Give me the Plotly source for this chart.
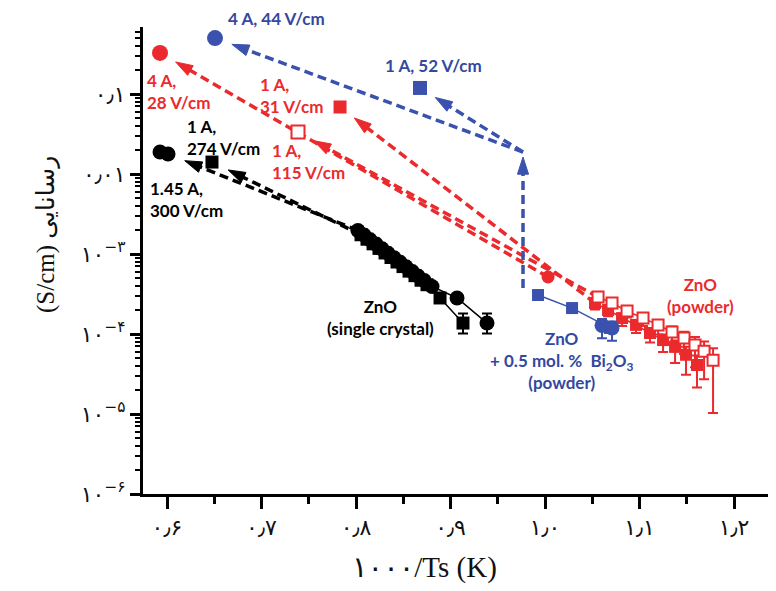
import numpy as np
import plotly.graph_objects as go

# ---------------- data: x = 1000/T (1/K), y = conductivity (S/cm) ----------------
# ZnO single crystal (black)
blk_circ_x = [0.802, 0.8085, 0.8148, 0.8212, 0.8275, 0.8339, 0.8402, 0.8466, 0.8529,
              0.8593, 0.8656, 0.872, 0.8804, 0.9069, 0.9386]
blk_circ_y = [1.97e-3, 1.73e-3, 1.51e-3, 1.33e-3, 1.16e-3, 1.02e-3, 8.99e-4, 7.87e-4,
              6.92e-4, 6.06e-4, 5.32e-4, 4.68e-4, 3.93e-4, 2.82e-4, 1.37e-4]
blk_circ_up = [0]*14 + [0.12]      # error bar, decades
blk_circ_dn = [0]*14 + [0.13]
blk_sq_x = [0.8053, 0.8116, 0.818, 0.8243, 0.8307, 0.837, 0.8434, 0.8497, 0.8561,
            0.8624, 0.8688, 0.8751, 0.8889, 0.9132]
blk_sq_y = [1.74e-3, 1.53e-3, 1.34e-3, 1.175e-3, 1.03e-3, 9.04e-4, 7.94e-4, 6.96e-4,
            6.11e-4, 5.36e-4, 4.70e-4, 4.13e-4, 2.82e-4, 1.37e-4]
blk_sq_up = [0]*13 + [0.12]
blk_sq_dn = [0]*13 + [0.13]
blk_flash_circ_x = [0.5926, 0.6011]
blk_flash_circ_y = [1.88e-2, 1.78e-2]
blk_flash_sq_x = [0.6476]
blk_flash_sq_y = [1.41e-2]

# ZnO powder (red)
red_circ_x = [1.0032]
red_circ_y = [5.16e-4]
red_flash_circ_x = [0.5926]
red_flash_circ_y = [0.326]
red_fill_x = [1.0529, 1.0667, 1.0815, 1.0963, 1.1111, 1.1249, 1.1376, 1.1492, 1.1608]
red_fill_y = [2.44e-4, 2.0e-4, 1.58e-4, 1.30e-4, 1.03e-4, 8.4e-5, 6.9e-5, 5.5e-5, 4.1e-5]
red_fill_up = [0.05, 0.05, 0.05, 0.06, 0.06, 0.07, 0.08, 0.1, 0.12]
red_fill_dn = [0.08, 0.08, 0.1, 0.1, 0.12, 0.15, 0.2, 0.25, 0.28]
red_fill_flash_x = [0.7831]
red_fill_flash_y = [6.88e-2]
red_open_x = [1.0561, 1.0709, 1.0868, 1.1037, 1.1196, 1.1344, 1.1471, 1.1587, 1.1683, 1.1778]
red_open_y = [2.90e-4, 2.44e-4, 1.94e-4, 1.58e-4, 1.30e-4, 1.06e-4, 8.9e-5, 7.3e-5, 6.1e-5, 4.7e-5]
red_open_up = [0.04, 0.04, 0.05, 0.05, 0.06, 0.07, 0.08, 0.1, 0.12, 0.15]
red_open_dn = [0.05, 0.06, 0.08, 0.1, 0.12, 0.15, 0.2, 0.28, 0.35, 0.66]
red_open_flash_x = [0.7386]
red_open_flash_y = [3.35e-2]

# ZnO + 0.5 mol.% Bi2O3 powder (blue)
blue_sq_x = [0.9926, 1.0286, 1.0688]
blue_sq_y = [3.07e-4, 2.11e-4, 1.19e-4]
blue_circ_x = [1.0603, 1.0709]
blue_circ_y = [1.28e-4, 1.19e-4]
blue_circ_up = [0.08, 0.08]
blue_circ_dn = [0.16, 0.16]
blue_flash_circ_x = [0.6508]
blue_flash_circ_y = [0.50]
blue_flash_sq_x = [0.8677]
blue_flash_sq_y = [0.119]
blue_jump_x = [0.9767, 0.9767]
blue_jump_y = [3.76e-4, 1.88e-2]

x_tickvals = [0.6, 0.7, 0.8, 0.9, 1.0, 1.1, 1.2]
x_ticktext = ["۰٫۶", "۰٫۷", "۰٫۸", "۰٫۹", "۱٫۰", "۱٫۱", "۱٫۲"]
y_tickvals = [1e-6, 1e-5, 1e-4, 1e-3, 1e-2, 1e-1]
y_ticktext = ["۱۰<sup>−۶</sup>", "۱۰<sup>−۵</sup>", "۱۰<sup>−۴</sup>",
              "۱۰<sup>−۳</sup>", "۰٫۰۱", "۰٫۱"]

# ---------------- styling ----------------
BLACK = "#000000"
RED = "#ea2a2c"
BLUE = "#3a52ad"
BLUE_T = "#33489f"

# page body has an 8px margin; figure sized so the plot lands where the reference has it
W, H = 768, 583
ML, MR, MT, MB = 135, 0, 19, 97
XR = [0.5746, 1.2444]
YR = [-6.0, -0.1625]
sx = (W - ML - MR) / (XR[1] - XR[0])
sy = (H - MT - MB) / (YR[1] - YR[0])

fig = go.Figure()


def tip(x0, y0, x1, y1, gap):
    ly0, ly1 = np.log10(y0), np.log10(y1)
    dx = (x1 - x0) * sx
    dy = (ly1 - ly0) * sy
    d = np.hypot(dx, dy)
    f = (d - gap) / d
    return x0 + (x1 - x0) * f, 10 ** (ly0 + (ly1 - ly0) * f)


def arrow(x0, y0, x1, y1, color, gap=18, head=True):
    xt, yt = tip(x0, y0, x1, y1, gap)
    fig.add_trace(go.Scatter(
        x=[x0, xt], y=[y0, yt], mode="lines+markers" if head else "lines",
        line=dict(color=color, width=3.5, dash="9px,5px"),
        marker=dict(symbol=["circle", "arrow"], size=[0, 18], angleref="previous",
                    color=color, opacity=1, line=dict(width=1, color=color)),
        hoverinfo="skip", showlegend=False, cliponaxis=False))


def err(y, up, dn):
    y = np.array(y)
    return dict(type="data", symmetric=False,
                array=list(y * (10 ** np.array(up) - 1)),
                arrayminus=list(y * (1 - 10 ** (-np.array(dn)))))


# dashed arrows
arrow(blk_circ_x[0], blk_circ_y[0], blk_flash_circ_x[-1], blk_flash_circ_y[-1], BLACK)
arrow(blk_sq_x[0], blk_sq_y[0], blk_flash_sq_x[0], blk_flash_sq_y[0], BLACK)
arrow(red_circ_x[0], red_circ_y[0], red_flash_circ_x[0], red_flash_circ_y[0], RED)
arrow(red_fill_x[0], red_fill_y[0], red_fill_flash_x[0], red_fill_flash_y[0], RED)
arrow(red_open_x[0], red_open_y[0], red_open_flash_x[0], red_open_flash_y[0], RED)
arrow(blue_jump_x[0], blue_jump_y[0], blue_jump_x[1], blue_jump_y[1], BLUE, gap=5)
arrow(blue_jump_x[1], blue_jump_y[1], blue_flash_circ_x[0], blue_flash_circ_y[0], BLUE)
arrow(blue_jump_x[1], blue_jump_y[1], blue_flash_sq_x[0], blue_flash_sq_y[0], BLUE)


def series(x, y, symbol, color, size, fill=None, lw=0, e=None, line=True):
    fig.add_trace(go.Scatter(
        x=x, y=y, mode="lines+markers" if line else "markers",
        line=dict(color=color, width=1.5),
        marker=dict(symbol=symbol, size=size, color=fill or color,
                    line=dict(color=color, width=lw)),
        error_y=(dict(**e, color=color, thickness=2, width=5) if e else None),
        showlegend=False, hoverinfo="skip", cliponaxis=False))


# red powder
series(red_fill_x, red_fill_y, "square", RED, 12, e=err(red_fill_y, red_fill_up, red_fill_dn))
series(red_open_x, red_open_y, "square", RED, 11, fill="white", lw=2,
       e=err(red_open_y, red_open_up, red_open_dn))
series(red_circ_x, red_circ_y, "circle", RED, 13, line=False)
# blue powder
series(blue_sq_x, blue_sq_y, "square", BLUE, 12)
series(blue_circ_x, blue_circ_y, "circle", BLUE, 15, e=err(blue_circ_y, blue_circ_up, blue_circ_dn),
       line=False)
# black single crystal
series(blk_sq_x, blk_sq_y, "square", BLACK, 13, e=err(blk_sq_y, blk_sq_up, blk_sq_dn))
series(blk_circ_x, blk_circ_y, "circle", BLACK, 15, e=err(blk_circ_y, blk_circ_up, blk_circ_dn))
# flash points
series(blk_flash_circ_x, blk_flash_circ_y, "circle", BLACK, 15, line=False)
series(blk_flash_sq_x, blk_flash_sq_y, "square", BLACK, 13, line=False)
series(red_flash_circ_x, red_flash_circ_y, "circle", RED, 16, line=False)
series(red_fill_flash_x, red_fill_flash_y, "square", RED, 13, line=False)
series(red_open_flash_x, red_open_flash_y, "square", RED, 13, fill="white", lw=2, line=False)
series(blue_flash_circ_x, blue_flash_circ_y, "circle", BLUE, 16, line=False)
series(blue_flash_sq_x, blue_flash_sq_y, "square", BLUE, 14, line=False)

# ---------------- text labels ----------------
LAB = dict(family="Lato, Open Sans, sans-serif", size=17)
labels = [
    (0.6624, -0.05, "4 A, 44 V/cm", BLUE_T, "left"),
    (0.8286, -0.6375, "1 A, 52 V/cm", BLUE_T, "left"),
    (0.5767, -0.97, "4 A,<br>28 V/cm", RED, "left"),
    (0.6963, -1.0125, "1 A,<br>31 V/cm", RED, "left"),
    (0.709, -1.85, "1 A,<br>115 V/cm", RED, "left"),
    (0.619, -1.54, "1 A,<br>274 V/cm", BLACK, "left"),
    (0.5799, -2.3125, "1.45 A,<br>300 V/cm", BLACK, "left"),
    (0.8254, -3.7875, "ZnO<br>(single crystal)", BLACK, "center"),
    (1.165, -3.5125, "ZnO<br>(powder)", RED, "center"),
    (1.018, -4.325, "ZnO<br>+ 0.5 mol. %  Bi<sub>2</sub>O<sub>3</sub><br>(powder)", BLUE_T, "center"),
]
for x, ly, t, c, anc in labels:
    fig.add_annotation(x=(x - XR[0]) / (XR[1] - XR[0]), y=(ly - YR[0]) / (YR[1] - YR[0]),
                       xref="paper", yref="paper", text="<b>" + t + "</b>",
                       showarrow=False, xanchor=anc, align=anc, yanchor="middle",
                       font=dict(LAB, color=c))

SERIF = "Liberation Serif, DejaVu Sans, serif"
fig.add_annotation(x=-0.1785, y=0.5546, xref="paper", yref="paper",
                   text="(S/cm) رسانایی", textangle=-90, showarrow=False,
                   font=dict(family=SERIF, size=25, color="#111"))
fig.add_annotation(x=0.444, y=-0.158, xref="paper", yref="paper",
                   text="۱۰۰۰/Ts (K)", showarrow=False, xanchor="center", yanchor="middle",
                   font=dict(family=SERIF, size=29, color="#111"))

minor_y = [k * 10.0 ** n for n in range(-6, 0) for k in range(2, 10)] + [0.2, 0.3, 0.4, 0.5, 0.6]

fig.update_layout(
    width=W, height=H, margin=dict(l=ML, r=MR, t=MT, b=MB),
    plot_bgcolor="white", paper_bgcolor="white",
    font=dict(family="DejaVu Sans, sans-serif", color="#111"),
    xaxis=dict(range=XR, showline=True, linewidth=3, linecolor="black", showgrid=False,
               zeroline=False, ticks="outside", ticklen=12, tickwidth=3, tickcolor="black",
               tickmode="array", tickvals=x_tickvals, ticktext=x_ticktext,
               tickfont=dict(size=22, family="DejaVu Sans"),
               minor=dict(ticks="outside", ticklen=7, tickwidth=2.5, tickcolor="black",
                          dtick=0.05, tick0=0.55, showgrid=False)),
    yaxis=dict(type="log", range=YR, showline=True, linewidth=3, linecolor="black",
               showgrid=False, zeroline=False, ticks="outside", ticklen=10, tickwidth=3,
               tickcolor="black", tickmode="array", tickvals=y_tickvals, ticktext=y_ticktext,
               tickfont=dict(size=22, family="DejaVu Sans"),
               minor=dict(ticks="outside", ticklen=5, tickwidth=2, tickcolor="black",
                          tickmode="array", tickvals=minor_y, showgrid=False)),
)

fig.write_html("out.html")
